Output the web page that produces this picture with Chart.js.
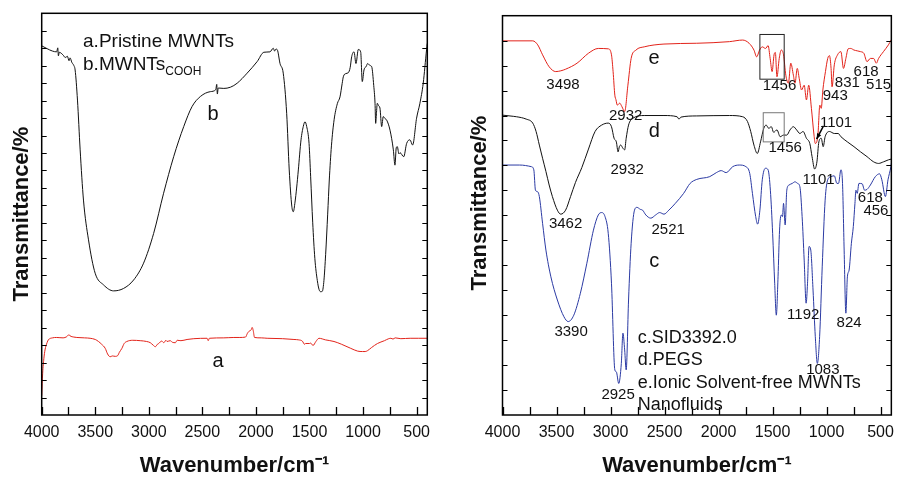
<!DOCTYPE html>
<html>
<head>
<meta charset="utf-8">
<script src="https://cdn.jsdelivr.net/npm/chart.js@4.4.1/dist/chart.umd.min.js"></script>
<style>
  body { margin: 0; background: #fff; }
  #wrap { position: relative; width: 902px; height: 480px; }
  #left { position: absolute; left: 0; top: 0; }
  #right { position: absolute; left: 450px; top: 0; }
</style>
</head>
<body>
<div id="wrap">
  <canvas id="left" width="450" height="480"></canvas>
  <canvas id="right" width="452" height="480"></canvas>
</div>
<script>
// eje x (numero de onda, cm-1)
const xTickValues = [4000, 3500, 3000, 2500, 2000, 1500, 1000, 500];
const xMinorTicks = [3750, 3250, 2750, 2250, 1750, 1250, 750];

// panel izquierdo: curva b (MWNTs-COOH)
const bWave = [4000, 3950, 3900, 3860, 3850, 3844, 3836, 3800, 3780, 3760, 3745, 3735, 3719, 3700, 3688,
  3666, 3641, 3610, 3563, 3501, 3423, 3329, 3236, 3142, 3049, 2955, 2862, 2768, 2674, 2596, 2518, 2425,
  2375, 2366, 2360, 2352, 2300, 2238, 2175, 2082, 1988, 1926, 1869, 1838, 1825, 1813, 1800, 1775, 1745,
  1713, 1689, 1665, 1651, 1635, 1620, 1604, 1579, 1558, 1542, 1526, 1504, 1489, 1470, 1450, 1427, 1410,
  1395, 1380, 1365, 1349, 1330, 1315, 1295, 1270, 1240, 1215, 1195, 1184, 1160, 1138, 1120, 1106, 1084,
  1066, 1044, 1022, 1007, 991, 970, 957, 935, 919, 900, 888, 882, 875, 867, 855, 842, 826, 811, 795, 779,
  748, 717, 702, 690, 680, 665, 655, 620, 593, 562, 537, 500, 469, 438, 407, 400];
const bTrans = [91.9, 91.2, 90.6, 90.4, 91.4, 89.4, 90.3, 89.6, 89.0, 89.3, 88.2, 88.9, 87.8, 87.0, 85.9,
  78.4, 66.0, 53.5, 43.6, 35.3, 32.4, 30.9, 31.5, 33.6, 37.8, 45.2, 55.2, 64.3, 71.8, 76.8, 79.3, 80.5,
  81.0, 82.3, 79.9, 81.4, 81.3, 81.6, 82.6, 85.1, 88.0, 90.3, 90.4, 91.3, 90.6, 91.1, 90.9, 87.5, 85.1,
  75.1, 61.0, 52.0, 50.6, 53.0, 56.5, 61.0, 68.5, 71.8, 73.0, 71.8, 67.6, 59.3, 48.0, 39.0, 33.5, 31.2,
  30.7, 30.8, 33.5, 40.0, 50.0, 58.5, 67.0, 73.5, 77.5, 79.2, 82.5, 84.2, 85.0, 85.2, 86.5, 89.2, 90.4,
  87.5, 91.0, 90.4, 83.0, 85.9, 86.8, 87.5, 87.0, 86.7, 82.0, 77.6, 72.6, 75.0, 77.6, 77.0, 76.4, 71.8,
  74.3, 73.8, 73.4, 70.9, 66.0, 62.2, 66.5, 66.8, 65.0, 65.3, 64.3, 67.6, 68.5, 67.2, 73.9, 77.6, 82.6,
  90.9, 92.5];

// panel izquierdo: curva a (Pristine MWNTs)
const aWave = [4000, 3991, 3980, 3969, 3950, 3938, 3900, 3860, 3800, 3766, 3745, 3735, 3700, 3672, 3600,
  3548, 3500, 3470, 3440, 3407, 3385, 3361, 3340, 3314, 3290, 3275, 3251, 3230, 3205, 3150, 3080, 3020,
  2986, 2960, 2939, 2920, 2908, 2880, 2860, 2840, 2830, 2800, 2780, 2752, 2735, 2700, 2643, 2580, 2456,
  2445, 2435, 2300, 2206, 2150, 2097, 2080, 2066, 2045, 2035, 2025, 2013, 1950, 1895, 1750, 1645, 1600,
  1567, 1545, 1536, 1500, 1489, 1467, 1440, 1411, 1350, 1271, 1200, 1115, 1050, 1006, 980, 959, 920, 865,
  800, 760, 740, 720, 700, 647, 560, 480, 400];
const aTrans = [4.8, 10.4, 14.0, 16.2, 18.0, 18.7, 19.2, 19.3, 19.2, 19.5, 20.0, 19.7, 19.4, 19.3, 19.2,
  19.1, 18.8, 18.3, 17.6, 16.6, 15.2, 14.5, 14.7, 14.6, 14.8, 15.6, 16.6, 17.8, 18.3, 18.6, 18.5, 18.3,
  18.0, 17.4, 17.0, 17.6, 17.8, 18.4, 18.0, 18.6, 18.3, 18.5, 18.1, 18.0, 18.6, 18.5, 18.8, 19.0, 19.1,
  18.5, 19.1, 19.2, 19.3, 19.3, 19.4, 20.3, 20.8, 21.2, 21.8, 21.0, 19.3, 19.2, 19.1, 19.0, 18.8, 18.7,
  18.4, 17.6, 17.8, 17.8, 17.9, 17.3, 18.3, 19.1, 18.7, 18.3, 17.6, 16.6, 15.9, 15.8, 15.8, 16.0, 16.8, 17.8,
  18.5, 19.0, 19.1, 18.9, 19.2, 19.0, 19.1, 19.1, 19.1];

// panel derecho: curva e (Ionic solvent-free MWNTs nanofluids)
const eWave = [4000, 3720, 3674, 3629, 3568, 3507, 3460, 3416, 3310, 3204, 3113, 3021, 2991, 2976, 2960,
  2950, 2937, 2915, 2894, 2869, 2839, 2809, 2764, 2688, 2505, 2202, 1899, 1777, 1717, 1672, 1647, 1620,
  1595, 1565, 1541, 1522, 1504, 1486, 1474, 1459, 1438, 1419, 1398, 1377, 1353, 1331, 1307, 1292, 1271,
  1253, 1231, 1207, 1186, 1165, 1140, 1116, 1104, 1080, 1062, 1049, 1034, 1010, 989, 973, 958, 949, 928,
  898, 867, 843, 821, 800, 776, 746, 716, 685, 655, 625, 594, 564, 539, 518, 473, 427, 400];
const eTrans = [93.7, 93.7, 92.7, 90.2, 87.2, 86.0, 86.2, 86.6, 88.1, 90.6, 91.8, 91.7, 90.2, 86.0, 80.1,
  79.0, 77.6, 78.1, 77.2, 76.0, 82.6, 89.3, 91.4, 92.2, 92.9, 93.1, 93.5, 93.9, 93.1, 91.4, 89.7, 91.4,
  92.2, 91.8, 92.5, 89.3, 86.0, 90.2, 90.8, 84.7, 89.3, 91.4, 90.2, 85.1, 83.1, 88.1, 85.1, 83.1, 86.8,
  84.3, 81.4, 82.6, 78.9, 82.6, 76.8, 70.1, 68.0, 70.1, 77.6, 76.8, 81.4, 86.0, 89.3, 90.0, 86.8, 82.2, 87.7,
  90.2, 91.0, 86.8, 89.3, 91.7, 91.8, 91.4, 91.2, 91.0, 90.6, 88.5, 89.3, 89.3, 88.1, 89.3, 91.0, 92.7, 94.0];

// panel derecho: curva d (PEGS)
const dWave = [4000, 3900, 3871, 3780, 3720, 3689, 3659, 3629, 3598, 3568, 3538, 3492, 3461, 3416, 3370,
  3325, 3265, 3204, 3143, 3082, 3021, 2991, 2967, 2946, 2930, 2918, 2906, 2885, 2869, 2855, 2833, 2794,
  2688, 2505, 2384, 2366, 2348, 2202, 1899, 1777, 1732, 1702, 1672, 1641, 1611, 1581, 1559, 1535, 1511,
  1490, 1459, 1429, 1398, 1368, 1338, 1307, 1277, 1247, 1217, 1186, 1155, 1134, 1110, 1089, 1071, 1049,
  1031, 1013, 973, 928, 892, 867, 807, 746, 685, 625, 564, 518, 473, 427, 400];
const dTrans = [75.1, 74.8, 74.7, 74.1, 73.1, 71.0, 67.6, 64.3, 61.0, 57.6, 54.7, 51.3, 50.3, 51.3, 54.7,
  58.2, 62.0, 66.6, 71.0, 72.6, 73.1, 72.2, 69.3, 68.4, 65.9, 67.2, 67.6, 66.8, 66.4, 69.3, 72.6, 74.3,
  75.0, 75.0, 74.7, 74.1, 74.6, 74.9, 75.0, 74.7, 73.5, 71.0, 67.6, 65.5, 68.4, 71.8, 72.6, 71.8, 72.2,
  70.8, 71.4, 69.7, 70.1, 70.1, 71.4, 72.2, 71.4, 70.5, 71.0, 69.3, 68.0, 64.7, 61.6, 63.4, 68.4, 69.3,
  67.2, 69.7, 71.0, 70.5, 70.5, 69.7, 68.4, 67.2, 65.9, 64.7, 63.4, 63.0, 63.4, 63.9, 64.1];

// panel derecho: curva c (SID3392.0)
const cWave = [4000, 3841, 3734, 3710, 3695, 3674, 3659, 3629, 3598, 3552, 3492, 3431, 3392, 3340, 3279,
  3219, 3158, 3113, 3082, 3051, 3021, 2991, 2960, 2946, 2924, 2900, 2885, 2869, 2855, 2833, 2809, 2778,
  2755, 2724, 2703, 2673, 2627, 2582, 2545, 2505, 2460, 2400, 2323, 2263, 2202, 2081, 2020, 1975, 1929,
  1868, 1808, 1747, 1711, 1686, 1656, 1638, 1617, 1595, 1565, 1541, 1520, 1499, 1480, 1465, 1449, 1435,
  1419, 1408, 1398, 1383, 1368, 1347, 1317, 1292, 1268, 1247, 1226, 1207, 1189, 1176, 1162, 1146, 1125,
  1104, 1085, 1064, 1040, 1013, 989, 958, 928, 904, 889, 867, 852, 837, 821, 807, 791, 770, 752, 737, 728,
  716, 700, 670, 648, 625, 594, 548, 509, 488, 455, 431, 404, 400];
const cTrans = [62.6, 62.6, 62.2, 61.4, 56.3, 55.9, 54.7, 48.0, 41.3, 34.6, 28.8, 24.6, 23.4, 25.0, 30.5,
  38.0, 46.3, 50.1, 50.7, 49.7, 45.5, 33.0, 11.3, 10.8, 7.9, 12.9, 20.5, 16.3, 11.3, 28.8, 43.0, 51.3,
  52.0, 51.5, 51.3, 50.1, 49.3, 50.1, 50.7, 50.3, 51.3, 53.0, 55.5, 58.0, 59.0, 59.7, 60.7, 61.2, 60.7,
  62.2, 62.6, 62.2, 60.5, 55.5, 49.7, 47.8, 51.3, 58.9, 61.8, 61.4, 56.3, 45.5, 33.0, 25.0, 34.6, 46.3,
  50.1, 49.7, 53.0, 47.6, 56.3, 57.6, 58.0, 58.4, 58.0, 57.2, 49.7, 38.8, 28.0, 33.0, 42.2, 41.3, 31.3,
  19.6, 12.9, 19.6, 37.1, 53.8, 58.9, 59.7, 59.9, 58.0, 58.0, 61.4, 58.0, 41.3, 25.5, 34.6, 36.3, 43.0, 47.2,
  53.0, 56.3, 55.5, 58.0, 57.9, 56.3, 56.5, 57.6, 59.7, 60.4, 58.9, 54.7, 58.9, 62.2, 63.0];

const FONT = "'Liberation Sans', Arial, Helvetica, sans-serif";
Chart.defaults.font.family = FONT;
Chart.defaults.color = '#111';

function puntos(wave, trans) {
  return wave.map((w, i) => ({ x: w, y: trans[i] }));
}

function serie(wave, trans, color) {
  return {
    data: puntos(wave, trans),
    borderColor: color,
    borderWidth: 1,
    pointRadius: 0,
    fill: false,
    cubicInterpolationMode: 'monotone',
  };
}

// marco y marcas hacia dentro (como en el original)
const marcoPlugin = {
  id: 'marco',
  afterDraw(chart, args, opts) {
    const { ctx, chartArea: a, scales: { x, y } } = chart;
    ctx.save();
    ctx.strokeStyle = '#000';
    ctx.lineWidth = 1.3;
    const marcas = xTickValues.concat(xMinorTicks);
    marcas.forEach((v) => {
      const px = Math.round(x.getPixelForValue(v)) + 0.5;
      ctx.beginPath();
      ctx.moveTo(px, a.bottom);
      ctx.lineTo(px, a.bottom - 8);
      ctx.stroke();
    });
    ctx.lineWidth = 1;
    for (let i = 1; i < opts.yDivs; i++) {
      const py = Math.round(y.getPixelForValue((i * 100) / opts.yDivs)) + 0.5;
      ctx.beginPath();
      ctx.moveTo(a.left, py);
      ctx.lineTo(a.left + 5, py);
      ctx.moveTo(a.right, py);
      ctx.lineTo(a.right - 5, py);
      ctx.stroke();
    }
    (opts.boxes || []).forEach((b) => {
      ctx.strokeStyle = b.color;
      const x1 = x.getPixelForValue(b.x1), x2 = x.getPixelForValue(b.x2);
      const y1 = y.getPixelForValue(b.y1), y2 = y.getPixelForValue(b.y2);
      ctx.strokeRect(x1, y1, x2 - x1, y2 - y1);
    });
    if (opts.arrow) {
      const r = opts.arrow;
      const x1 = x.getPixelForValue(r.x1), y1 = y.getPixelForValue(r.y1);
      const x2 = x.getPixelForValue(r.x2), y2 = y.getPixelForValue(r.y2);
      ctx.strokeStyle = '#000';
      ctx.lineWidth = 1.5;
      ctx.beginPath();
      ctx.moveTo(x1, y1);
      ctx.lineTo(x2, y2);
      ctx.stroke();
      const ang = Math.atan2(y2 - y1, x2 - x1);
      ctx.fillStyle = '#000';
      ctx.beginPath();
      ctx.moveTo(x2, y2);
      ctx.lineTo(x2 - 6 * Math.cos(ang - 0.4), y2 - 6 * Math.sin(ang - 0.4));
      ctx.lineTo(x2 - 6 * Math.cos(ang + 0.4), y2 - 6 * Math.sin(ang + 0.4));
      ctx.closePath();
      ctx.fill();
    }
    ctx.lineWidth = 1.5;
    ctx.strokeStyle = '#000';
    ctx.strokeRect(a.left, a.top, a.right - a.left, a.bottom - a.top);
    ctx.restore();
  },
};

// textos sobre el grafico (posicion en unidades de datos)
const textosPlugin = {
  id: 'textos',
  afterDraw(chart, args, opts) {
    const { ctx, scales: { x, y } } = chart;
    ctx.save();
    ctx.fillStyle = '#111';
    ctx.textBaseline = 'middle';
    (opts.items || []).forEach((t) => {
      const px = x.getPixelForValue(t.x), py = y.getPixelForValue(t.y);
      ctx.font = (t.size || 15) + 'px ' + FONT;
      ctx.textAlign = t.align || 'center';
      ctx.fillText(t.text, px, py);
      if (t.sub) {
        const w = ctx.measureText(t.text).width;
        ctx.font = '12px ' + FONT;
        ctx.textAlign = 'left';
        ctx.fillText(t.sub, px + w, py + 7);
      }
    });
    ctx.restore();
  },
};

function opciones(cfg) {
  return {
    responsive: false,
    animation: false,
    layout: { padding: { top: cfg.top, right: cfg.right, left: 0, bottom: 0 } },
    plugins: {
      legend: { display: false },
      tooltip: { enabled: false },
      marco: { yDivs: cfg.yDivs, boxes: cfg.boxes, arrow: cfg.arrow },
      textos: { items: cfg.textos },
    },
    scales: {
      x: {
        type: 'linear',
        reverse: true,
        min: 400,
        max: 4000,
        afterBuildTicks: (s) => { s.ticks = xTickValues.map((v) => ({ value: v })); },
        afterFit: (s) => { s.height = 65; },
        grid: { display: false, drawTicks: false },
        border: { display: false },
        ticks: {
          color: '#111',
          font: { size: 16 },
          padding: 8,
          maxRotation: 0,
          autoSkip: false,
          callback: (v) => String(v),
        },
        title: {
          display: true,
          text: 'Wavenumber/cm⁻¹',
          color: '#111',
          font: { size: 22, weight: 'bold' },
          padding: { top: 0, bottom: 1 },
        },
      },
      y: {
        min: 0,
        max: 100,
        afterFit: (s) => { s.width = cfg.yWidth; },
        ticks: { display: false },
        grid: { display: false, drawTicks: false },
        border: { display: false },
        title: {
          display: true,
          text: cfg.yTitle,
          color: '#111',
          font: { size: 22, weight: 'bold' },
          padding: { top: cfg.yTitlePad, bottom: 0 },
        },
      },
    },
  };
}

new Chart(document.getElementById('left'), {
  type: 'line',
  data: {
    datasets: [serie(bWave, bTrans, '#111111'), serie(aWave, aTrans, '#e2231a')],
  },
  options: opciones({
    top: 13.3,
    right: 22.7,
    yWidth: 41.7,
    yDivs: 23,
    yTitle: 'Transmittance/%',
    yTitlePad: 9,
    textos: [
      { text: 'a.Pristine MWNTs', x: 3614, y: 92.9, size: 19, align: 'left' },
      { text: 'b.MWNTs', sub: 'COOH', x: 3614, y: 87.1, size: 19, align: 'left' },
      { text: 'b', x: 2401, y: 74.7, size: 20 },
      { text: 'a', x: 2354, y: 13.4, size: 20 },
    ],
  }),
  plugins: [marcoPlugin, textosPlugin],
});

new Chart(document.getElementById('right'), {
  type: 'line',
  data: {
    datasets: [
      serie(eWave, eTrans, '#e2231a'),
      serie(dWave, dTrans, '#111111'),
      serie(cWave, cTrans, '#2b3aa3'),
    ],
  },
  options: opciones({
    top: 15.7,
    right: 4,
    yWidth: 52.5,
    yDivs: 16,
    yTitle: '    Transmittance/%',
    yTitlePad: 17,
    boxes: [
      { x1: 1617, x2: 1392, y1: 95.3, y2: 84.1, color: '#222' },
      { x1: 1586, x2: 1392, y1: 75.7, y2: 68.4, color: '#777' },
    ],
    arrow: { x1: 1028, y1: 72.4, x2: 1092, y2: 69.1 },
    textos: [
      { text: 'e', x: 2596, y: 89.3, size: 20 },
      { text: 'd', x: 2594, y: 70.9, size: 20 },
      { text: 'c', x: 2594, y: 38.4, size: 20 },
      { text: '3498', x: 3440, y: 82.8 },
      { text: '2932', x: 2860, y: 74.9 },
      { text: '2932', x: 2846, y: 61.5 },
      { text: '3462', x: 3416, y: 47.8 },
      { text: '3390', x: 3365, y: 20.9 },
      { text: '2925', x: 2930, y: 5.0 },
      { text: '2521', x: 2466, y: 46.3 },
      { text: '1456', x: 1435, y: 82.4 },
      { text: '1456', x: 1383, y: 66.8 },
      { text: '831', x: 807, y: 83.1 },
      { text: '943', x: 919, y: 79.9 },
      { text: '618', x: 634, y: 86.0 },
      { text: '515', x: 518, y: 82.6 },
      { text: '1101', x: 912, y: 73.2 },
      { text: '1101', x: 1074, y: 59.0 },
      { text: '1192', x: 1216, y: 25.2 },
      { text: '824', x: 791, y: 23.2 },
      { text: '1083', x: 1034, y: 11.3 },
      { text: '618', x: 594, y: 54.3 },
      { text: '456', x: 543, y: 51.1 },
      { text: 'c.SID3392.0', x: 2748, y: 19.2, size: 18, align: 'left' },
      { text: 'd.PEGS', x: 2748, y: 13.8, size: 18, align: 'left' },
      { text: 'e.Ionic Solvent-free MWNTs', x: 2748, y: 7.9, size: 18, align: 'left' },
      { text: 'Nanofluids', x: 2748, y: 2.5, size: 18, align: 'left' },
    ],
  }),
  plugins: [marcoPlugin, textosPlugin],
});
</script>
</body>
</html>
